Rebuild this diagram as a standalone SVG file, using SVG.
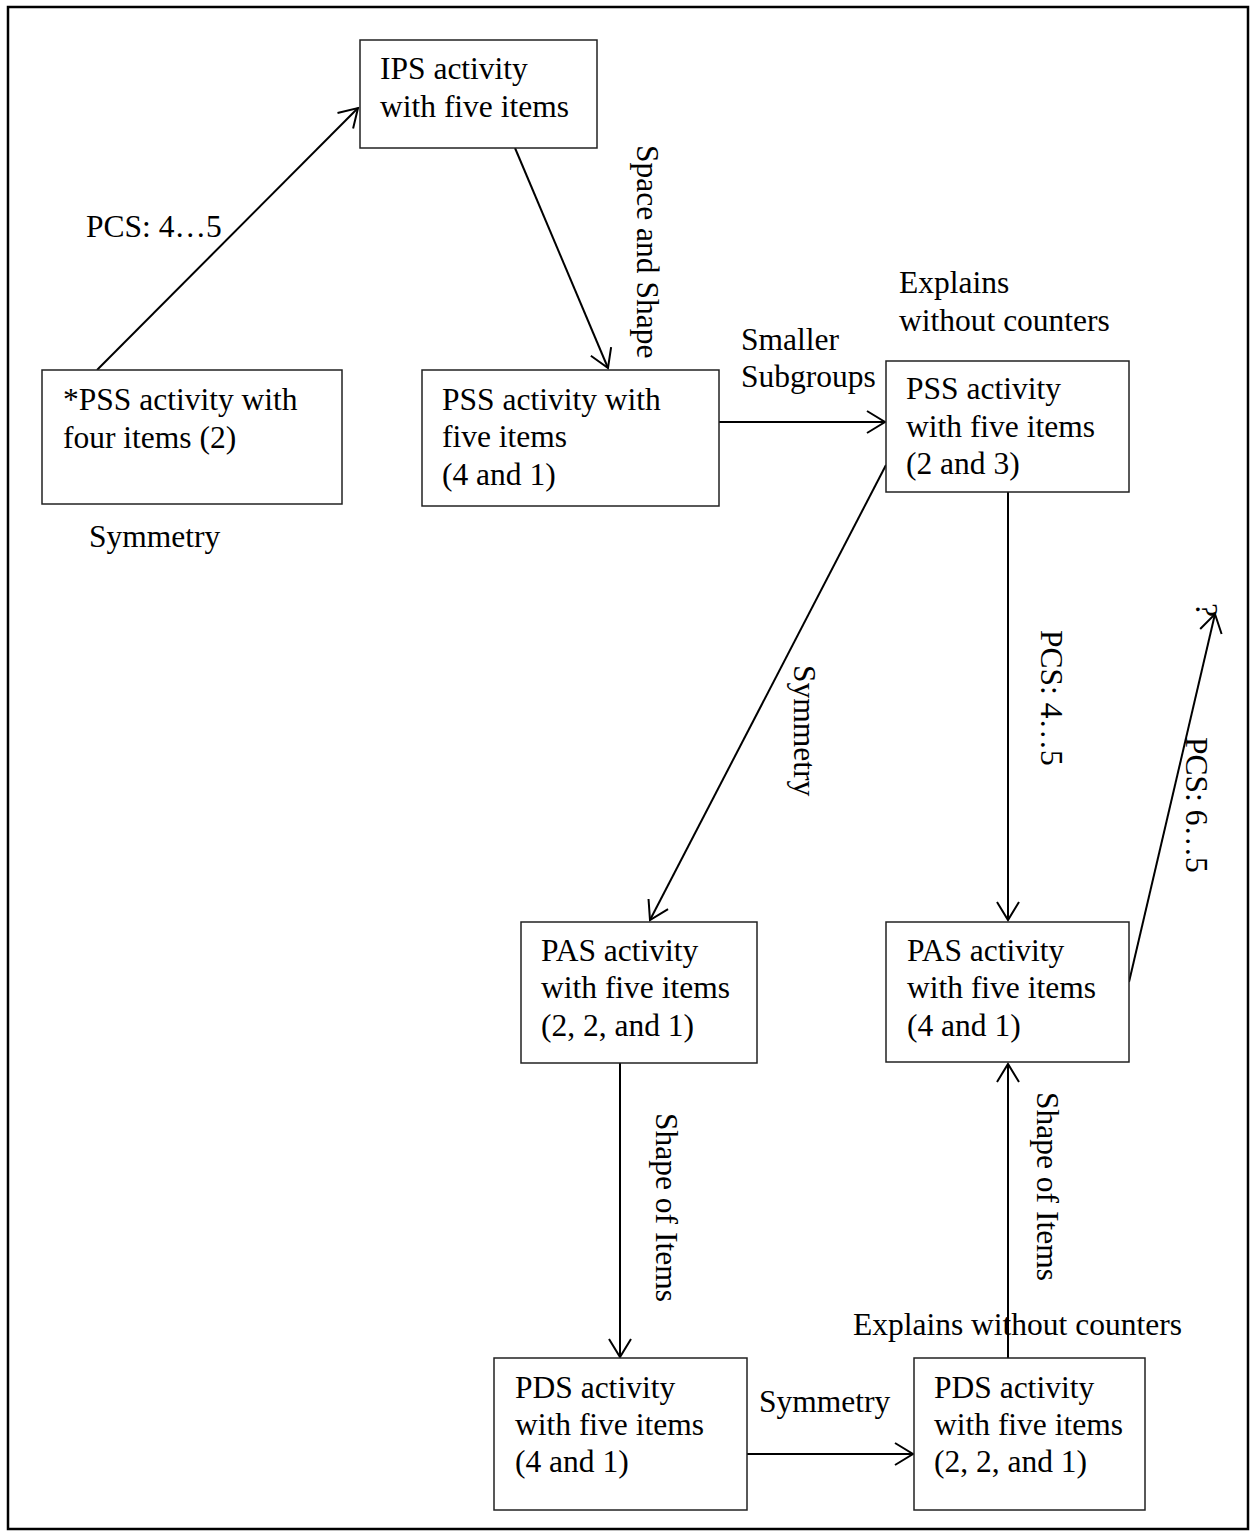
<svg xmlns="http://www.w3.org/2000/svg" width="1251" height="1532" viewBox="0 0 1251 1532">
<style>
  text { font-family: "Liberation Serif", "Times New Roman", serif; font-size: 31.5px; fill: #000; }
  .box { fill: #fff; stroke: #222; stroke-width: 1.5; }
  .edge { fill: none; stroke: #000; stroke-width: 2; }
</style>
<defs>
  <marker id="arr" markerUnits="userSpaceOnUse" viewBox="0 0 20 24" refX="18" refY="11" markerWidth="20" markerHeight="24" orient="auto" overflow="visible">
    <path d="M0,0 L18,11 L0,22" fill="none" stroke="#000" stroke-width="2"/>
  </marker>
</defs>
<rect width="1251" height="1532" fill="#fff"/>
<rect x="8" y="7" width="1240" height="1522" fill="none" stroke="#000" stroke-width="2.5"/>

<g id="connectors">
  <line class="edge" x1="97" y1="370" x2="358" y2="108" marker-end="url(#arr)"/>
  <line class="edge" x1="515" y1="148" x2="608" y2="368" marker-end="url(#arr)"/>
  <line class="edge" x1="719" y1="422" x2="885" y2="422" marker-end="url(#arr)"/>
  <line class="edge" x1="886" y1="465" x2="650" y2="920" marker-end="url(#arr)"/>
  <line class="edge" x1="1008" y1="492" x2="1008" y2="920" marker-end="url(#arr)"/>
  <line class="edge" x1="1129" y1="982" x2="1215" y2="614" marker-end="url(#arr)"/>
  <line class="edge" x1="620" y1="1063" x2="620" y2="1357" marker-end="url(#arr)"/>
  <line class="edge" x1="747" y1="1454" x2="913" y2="1454" marker-end="url(#arr)"/>
  <line class="edge" x1="1008" y1="1358" x2="1008" y2="1064" marker-end="url(#arr)"/>
</g>

<g id="edge-labels">
  <text x="86" y="237">PCS: 4…5</text>
  <text x="89" y="547">Symmetry</text>
  <text transform="translate(637,145) rotate(90)">Space and Shape</text>
  <text x="741" y="350">Smaller</text>
  <text x="741" y="387">Subgroups</text>
  <text x="899" y="293">Explains</text>
  <text x="899" y="331">without counters</text>
  <text transform="translate(794,665) rotate(90)">Symmetry</text>
  <text transform="translate(1041,630) rotate(90)">PCS: 4…5</text>
  <text transform="translate(1186,737) rotate(90)">PCS: 6…5</text>
  <text transform="translate(1196,603) rotate(90)">?</text>
  <text transform="translate(656,1113) rotate(90)">Shape of Items</text>
  <text transform="translate(1037,1092) rotate(90)">Shape of Items</text>
  <text x="853" y="1335">Explains without counters</text>
  <text x="759" y="1412">Symmetry</text>
</g>

<g id="node-ips">
  <rect class="box" x="360" y="40" width="237" height="108"/>
  <text x="380" y="79">IPS activity</text>
  <text x="380" y="117">with five items</text>
</g>
<g id="node-pss4">
  <rect class="box" x="42" y="370" width="300" height="134"/>
  <text x="63" y="410">*PSS activity with</text>
  <text x="63" y="448">four items (2)</text>
</g>
<g id="node-pss41">
  <rect class="box" x="422" y="370" width="297" height="136"/>
  <text x="442" y="410">PSS activity with</text>
  <text x="442" y="447">five items</text>
  <text x="442" y="485">(4 and 1)</text>
</g>
<g id="node-pss23">
  <rect class="box" x="886" y="361" width="243" height="131"/>
  <text x="906" y="399">PSS activity</text>
  <text x="906" y="437">with five items</text>
  <text x="906" y="474">(2 and 3)</text>
</g>
<g id="node-pas221">
  <rect class="box" x="521" y="922" width="236" height="141"/>
  <text x="541" y="961">PAS activity</text>
  <text x="541" y="998">with five items</text>
  <text x="541" y="1036">(2, 2, and 1)</text>
</g>
<g id="node-pas41">
  <rect class="box" x="886" y="922" width="243" height="140"/>
  <text x="907" y="961">PAS activity</text>
  <text x="907" y="998">with five items</text>
  <text x="907" y="1036">(4 and 1)</text>
</g>
<g id="node-pds41">
  <rect class="box" x="494" y="1358" width="253" height="152"/>
  <text x="515" y="1398">PDS activity</text>
  <text x="515" y="1435">with five items</text>
  <text x="515" y="1472">(4 and 1)</text>
</g>
<g id="node-pds221">
  <rect class="box" x="914" y="1358" width="231" height="152"/>
  <text x="934" y="1398">PDS activity</text>
  <text x="934" y="1435">with five items</text>
  <text x="934" y="1472">(2, 2, and 1)</text>
</g>
</svg>
